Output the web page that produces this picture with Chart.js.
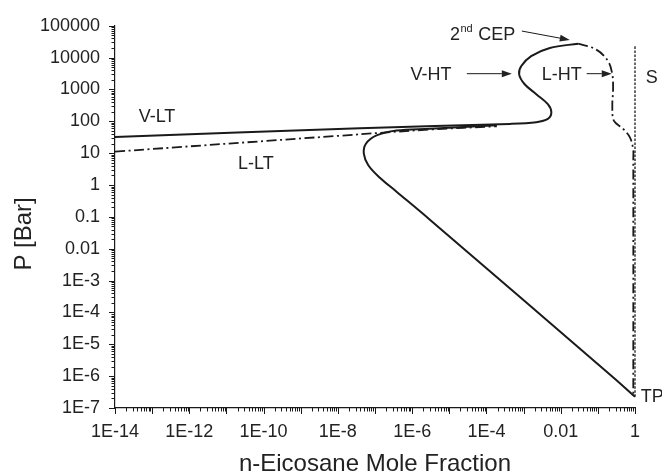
<!DOCTYPE html>
<html>
<head>
<meta charset="utf-8">
<script src="https://cdn.jsdelivr.net/npm/chart.js@4.4.1/dist/chart.umd.min.js"></script>
<style>
  html, body { margin: 0; padding: 0; background: #fff; }
  canvas { display: block; }
</style>
</head>
<body>
<canvas id="pxChart" width="662" height="475"></canvas>
<script>
// vapour branch: V-LT, then the high-temperature loop (V-HT) up to the 2nd CEP
const vapourX = [1e-14, 3.9e-8, 4.3e-4, 2.2e-3, 4.5e-3, 5.6e-3, 4.5e-3, 2.2e-3, 1.07e-3, 7.6e-4, 8.7e-4, 1.6e-3, 5.1e-3, 2.95e-2];
const vapourP = [32, 61, 83, 94, 119, 192, 348, 712, 1460, 2990, 5450, 11200, 20200, 27500];

// liquid branch at low temperature (L-LT)
const liqLowX = [1e-14, 1e-8, 3.0e-6, 1.9e-4];
const liqLowP = [11.2, 35, 55.5, 70];

// liquid branch at high temperature (L-HT), from the 2nd CEP down to TP
const liqHighX = [2.95e-2, 9.1e-2, 0.188, 0.245, 0.257, 0.245, 0.269, 0.479, 0.724, 0.89, 0.9, 0.9];
const liqHighP = [27500, 17900, 7800, 2990, 1020, 310, 106, 58, 32, 13.8, 6.75, 2.24e-7];

// three-phase line from TP back up to the low-temperature branches
const threePhaseX = [1, 0.252, 3.0e-6, 3.8e-7, 1.35e-7, 6.6e-8, 5.0e-8, 5.7e-8, 1.1e-7, 3.8e-7, 3.0e-6, 1.9e-4];
const threePhaseP = [2.24e-7, 9.4e-7, 0.082, 0.62, 1.7, 4.2, 9.66, 19.8, 36.1, 51.6, 58.7, 76];

// pure solid line (S)
const solidX = [1, 1];
const solidP = [2.24e-7, 25600];

const xTicks = [1e-14, 1e-12, 1e-10, 1e-8, 1e-6, 1e-4, 1e-2, 1];
const xTickLabels = ['1E-14', '1E-12', '1E-10', '1E-8', '1E-6', '1E-4', '0.01', '1'];
const yTicks = [1e-7, 1e-6, 1e-5, 1e-4, 1e-3, 1e-2, 0.1, 1, 10, 100, 1000, 10000, 100000];
const yTickLabels = ['1E-7', '1E-6', '1E-5', '1E-4', '1E-3', '0.01', '0.1', '1', '10', '100', '1000', '10000', '100000'];

const ink = '#1a1a1a';
const textInk = '#222';
const family = '"Liberation Sans", Arial, sans-serif';

function pts(xs, ys) {
  return xs.map((x, i) => ({ x, y: ys[i] }));
}

function curve(xs, ys, dash, width) {
  return {
    data: pts(xs, ys),
    showLine: true,
    borderColor: ink,
    borderWidth: width,
    borderDash: dash,
    pointRadius: 0,
    tension: 0.35,
    fill: false,
    clip: false
  };
}

// labels on the plot, placed in data units
const notes = [
  { text: 'V-LT', x: 1.35e-13, y: 134, align: 'center' },
  { text: 'L-LT', x: 6.2e-11, y: 4.6, align: 'center' },
  { text: 'V-HT', x: 3.2e-6, y: 2920, align: 'center' },
  { text: 'L-HT', x: 0.0107, y: 2920, align: 'center' },
  { text: 'S', x: 2.83, y: 2350, align: 'center' },
  { text: 'TP', x: 1.43, y: 2.24e-7, align: 'left' }
];
const arrows = [
  { from: [2.97e-5, 3140], to: [4.83e-4, 3140] },
  { from: [0.05, 3140], to: [0.237, 3140] },
  { from: [8.97e-4, 68400], to: [0.0176, 35900] }
];

const decor = {
  id: 'decor',
  afterDraw(chart) {
    const { ctx, chartArea: a, scales: { x, y } } = chart;
    ctx.save();
    ctx.strokeStyle = ink;
    ctx.lineWidth = 1;

    // minor and decade tick marks, pointing outward
    ctx.beginPath();
    for (let e = -14; e <= 0; e++) {
      for (let m = 1; m <= 9; m++) {
        const v = Number(m + 'e' + e);
        if (v > 1) break;
        const px = Math.round(x.getPixelForValue(v)) + 0.5;
        ctx.moveTo(px, a.bottom);
        ctx.lineTo(px, a.bottom + (m === 1 ? 6 : 3.5));
      }
    }
    for (let e = -7; e <= 5; e++) {
      for (let m = 1; m <= 9; m++) {
        const v = Number(m + 'e' + e);
        if (v > 1e5) break;
        const py = Math.round(y.getPixelForValue(v)) + 0.5;
        ctx.moveTo(a.left, py);
        ctx.lineTo(a.left - (m === 1 ? 6 : 3.5), py);
      }
    }
    ctx.stroke();

    // axis titles
    ctx.fillStyle = textInk;
    ctx.font = '24px ' + family;
    ctx.textAlign = 'center';
    ctx.textBaseline = 'middle';
    ctx.fillText('n-Eicosane Mole Fraction', (a.left + a.right) / 2, 464);
    ctx.save();
    ctx.translate(24, (a.top + a.bottom) / 2 + 17);
    ctx.rotate(-Math.PI / 2);
    ctx.fillText('P [Bar]', 0, 0);
    ctx.restore();

    // curve labels
    ctx.font = '18px ' + family;
    notes.forEach(n => {
      ctx.textAlign = n.align;
      ctx.fillText(n.text, x.getPixelForValue(n.x), y.getPixelForValue(n.y));
    });

    // "2nd CEP" with superscript
    let cx = x.getPixelForValue(1.04e-5);
    const cy = y.getPixelForValue(51400);
    ctx.textAlign = 'left';
    ctx.fillText('2', cx, cy);
    cx += ctx.measureText('2').width;
    ctx.font = '11px ' + family;
    ctx.fillText('nd', cx + 0.5, cy - 6);
    cx += ctx.measureText('nd').width + 1;
    ctx.font = '18px ' + family;
    ctx.fillText(' CEP', cx, cy);

    // arrows
    ctx.lineWidth = 1;
    arrows.forEach(ar => {
      const x1 = x.getPixelForValue(ar.from[0]), y1 = y.getPixelForValue(ar.from[1]);
      const x2 = x.getPixelForValue(ar.to[0]), y2 = y.getPixelForValue(ar.to[1]);
      const ang = Math.atan2(y2 - y1, x2 - x1);
      const hl = 10, hw = 3.5;
      ctx.beginPath();
      ctx.moveTo(x1, y1);
      ctx.lineTo(x2 - hl * Math.cos(ang), y2 - hl * Math.sin(ang));
      ctx.stroke();
      ctx.beginPath();
      ctx.moveTo(x2, y2);
      ctx.lineTo(x2 - hl * Math.cos(ang) + hw * Math.sin(ang), y2 - hl * Math.sin(ang) - hw * Math.cos(ang));
      ctx.lineTo(x2 - hl * Math.cos(ang) - hw * Math.sin(ang), y2 - hl * Math.sin(ang) + hw * Math.cos(ang));
      ctx.closePath();
      ctx.fill();
    });
    ctx.restore();
  }
};

const tickFont = { family: family, size: 18 };

new Chart(document.getElementById('pxChart'), {
  type: 'scatter',
  data: {
    datasets: [
      curve(vapourX, vapourP, [], 2),
      curve(liqLowX, liqLowP, [10, 3.5, 2, 3.5], 1.8),
      curve(liqHighX, liqHighP, [10, 3.5, 2, 3.5], 1.8),
      curve(threePhaseX, threePhaseP, [], 2),
      curve(solidX, solidP, [2.5, 1.5], 1.3)
    ]
  },
  options: {
    responsive: false,
    animation: false,
    layout: { padding: { top: 23, right: 27, left: 0, bottom: 0 } },
    plugins: {
      legend: { display: false },
      tooltip: { enabled: false }
    },
    scales: {
      x: {
        type: 'logarithmic',
        min: 1e-14,
        max: 1,
        grid: { display: false, drawTicks: false },
        border: { display: true, color: ink, width: 1.2 },
        afterBuildTicks: s => { s.ticks = xTicks.map(v => ({ value: v })); },
        afterFit: s => { s.height = 67; },
        ticks: {
          autoSkip: false,
          maxRotation: 0,
          padding: 13,
          color: textInk,
          font: tickFont,
          callback: (v, i) => xTickLabels[i]
        }
      },
      y: {
        type: 'logarithmic',
        min: 1e-7,
        max: 1e5,
        grid: { display: false, drawTicks: false },
        border: { display: true, color: ink, width: 1.2 },
        afterBuildTicks: s => { s.ticks = yTicks.map(v => ({ value: v })); },
        afterFit: s => { s.width = 115; },
        ticks: {
          autoSkip: false,
          padding: 15,
          color: textInk,
          font: tickFont,
          callback: (v, i) => yTickLabels[i]
        }
      }
    }
  },
  plugins: [decor]
});
</script>
</body>
</html>
